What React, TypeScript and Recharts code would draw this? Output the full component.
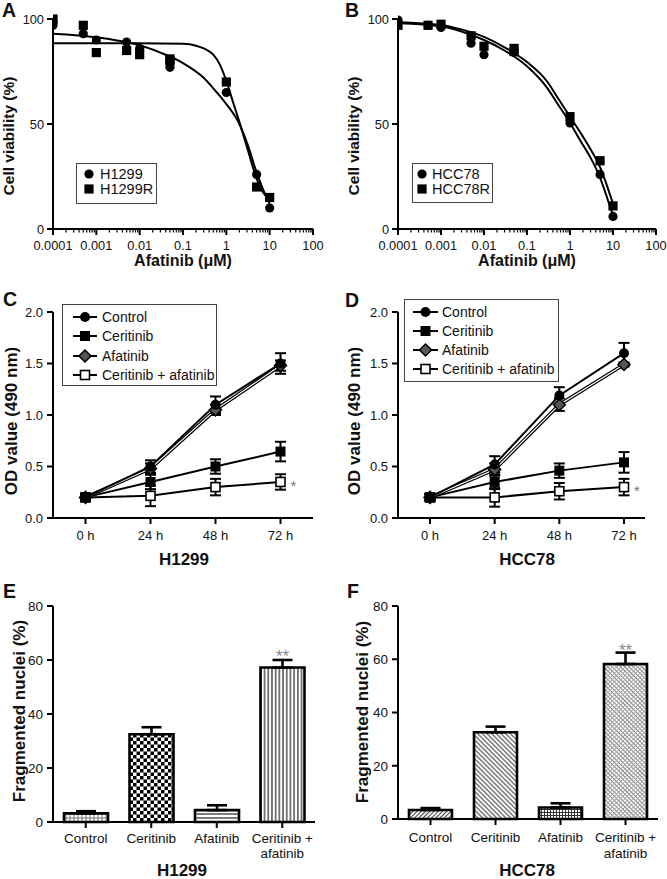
import React from 'react';
import {
  ComposedChart, BarChart, Line, Scatter, Bar, XAxis, YAxis,
  ErrorBar, Cell, Legend, LabelList,
} from 'recharts';

const FONT = '"Liberation Sans", Arial, Helvetica, sans-serif';
const INK = '#111';

// ---------- Panels A & B: dose response ----------
const decadeTicks = [0.0001, 0.001, 0.01, 0.1, 1, 10, 100];
const decadeLabels = ['0.0001', '0.001', '0.01', '0.1', '1', '10', '100'];
const minorSteps = [2, 3, 4, 5, 6, 7, 8, 9];
const logTicks = decadeTicks.flatMap((d, i) =>
  i < decadeTicks.length - 1 ? [d, ...minorSteps.map((m) => d * m)] : [d]
);
const viabilityTicks = [0, 50, 100];

const h1299Points = [
  { x: 0.0001, y: 97 }, { x: 0.0001, y: 98.5 }, { x: 0.0005, y: 93 }, { x: 0.001, y: 90 },
  { x: 0.005, y: 89 }, { x: 0.01, y: 85 }, { x: 0.01, y: 86 }, { x: 0.05, y: 77 },
  { x: 0.05, y: 79 }, { x: 1, y: 65 }, { x: 5, y: 26 }, { x: 10, y: 10 },
];
const h1299RPoints = [
  { x: 0.0001, y: 100 }, { x: 0.0005, y: 97 }, { x: 0.001, y: 84 }, { x: 0.005, y: 85 },
  { x: 0.01, y: 83 }, { x: 0.05, y: 80 }, { x: 0.05, y: 81 }, { x: 1, y: 70 },
  { x: 5, y: 20 }, { x: 10, y: 15 },
];
const h1299Fit = [
  { x: 0.0001, y: 93 }, { x: 0.001, y: 91.3 }, { x: 0.003, y: 89.8 }, { x: 0.01, y: 87.5 },
  { x: 0.03, y: 84 }, { x: 0.1, y: 79 }, { x: 0.3, y: 72 }, { x: 0.5, y: 67 },
  { x: 1, y: 59.5 }, { x: 2, y: 50 }, { x: 3, y: 41 }, { x: 5, y: 27 },
  { x: 7, y: 19 }, { x: 10, y: 12 },
];
const h1299RFit = [
  { x: 0.0001, y: 88.5 }, { x: 0.01, y: 88.5 }, { x: 0.1, y: 88.2 }, { x: 0.2, y: 87.3 },
  { x: 0.3, y: 86 }, { x: 0.5, y: 83 }, { x: 0.7, y: 78.5 }, { x: 1, y: 70.5 },
  { x: 1.5, y: 59 }, { x: 2, y: 51 }, { x: 3, y: 39 }, { x: 5, y: 24 },
  { x: 7, y: 17.5 }, { x: 10, y: 14 },
];

const hcc78Points = [
  { x: 0.0001, y: 99.5 }, { x: 0.0001, y: 98.5 }, { x: 0.0005, y: 97 }, { x: 0.001, y: 96 },
  { x: 0.005, y: 88.5 }, { x: 0.01, y: 83 }, { x: 0.05, y: 84 }, { x: 1, y: 50.5 },
  { x: 5, y: 26 }, { x: 10, y: 6 },
];
const hcc78RPoints = [
  { x: 0.0001, y: 97 }, { x: 0.0005, y: 97 }, { x: 0.001, y: 97.5 }, { x: 0.005, y: 92 },
  { x: 0.01, y: 87 }, { x: 0.05, y: 86 }, { x: 0.05, y: 84.5 }, { x: 1, y: 53.5 },
  { x: 5, y: 32.5 }, { x: 10, y: 11 },
];
const hcc78Fit = [
  { x: 0.0001, y: 98 }, { x: 0.001, y: 96.5 }, { x: 0.003, y: 94 }, { x: 0.01, y: 90 },
  { x: 0.03, y: 85 }, { x: 0.1, y: 77.5 }, { x: 0.3, y: 67 }, { x: 0.5, y: 60 },
  { x: 1, y: 50.5 }, { x: 2, y: 40 }, { x: 3, y: 34 }, { x: 5, y: 24.5 },
  { x: 7, y: 16 }, { x: 10, y: 6.5 },
];
const hcc78RFit = [
  { x: 0.0001, y: 98.5 }, { x: 0.001, y: 97.2 }, { x: 0.003, y: 95 }, { x: 0.01, y: 91.5 },
  { x: 0.03, y: 86.5 }, { x: 0.1, y: 79.5 }, { x: 0.3, y: 70 }, { x: 0.5, y: 63 },
  { x: 1, y: 53.5 }, { x: 2, y: 44 }, { x: 3, y: 38 }, { x: 5, y: 29.5 },
  { x: 7, y: 21.5 }, { x: 10, y: 12 },
];

// ---------- Panels C & D: OD 490 nm over time ----------
const timeLabels = ['0 h', '24 h', '48 h', '72 h'];
const odTicks = [0, 0.5, 1, 1.5, 2];

const cControl = [0.2, 0.5, 1.1, 1.5];
const cControlErr = [0.03, 0.06, 0.08, 0.1];
const cCeritinib = [0.2, 0.35, 0.5, 0.645];
const cCeritinibErr = [0.03, 0.07, 0.07, 0.095];
const cAfatinib = [0.2, 0.48, 1.05, 1.48];
const cAfatinibErr = [0.03, 0.05, 0.05, 0.05];
const cCombo = [0.2, 0.215, 0.3, 0.35];
const cComboErr = [0.03, 0.1, 0.08, 0.075];
const cSig = ['', '', '', '*'];

const dControl = [0.2, 0.52, 1.19, 1.6];
const dControlErr = [0.03, 0.08, 0.08, 0.1];
const dCeritinib = [0.2, 0.35, 0.46, 0.54];
const dCeritinibErr = [0.03, 0.07, 0.07, 0.1];
const dAfatinib = [0.2, 0.47, 1.1, 1.49];
const dAfatinibErr = [0.03, 0.06, 0.06, 0.02];
const dCombo = [0.2, 0.2, 0.26, 0.3];
const dComboErr = [0.03, 0.09, 0.08, 0.08];
const dSig = ['', '', '', '*'];

// ---------- Panels E & F: fragmented nuclei ----------
const apoptosisCats = ['Control', 'Ceritinib', 'Afatinib', 'Ceritinib +\nafatinib'];
const nucleiTicks = [0, 20, 40, 60, 80];
const eValues = [3.2, 32.5, 4.4, 57.2];
const eErrors = [0.8, 2.6, 1.8, 2.8];
const eSig = ['', '', '', '**'];
const fValues = [3.4, 32.6, 4.3, 58.2];
const fErrors = [0.7, 2.1, 1.6, 4.3];
const fSig = ['', '', '', '**'];
const ePatterns = ['url(#eCtl)', 'url(#eCer)', 'url(#eAfa)', 'url(#eCmb)'];
const fPatterns = ['url(#fCtl)', 'url(#fCer)', 'url(#fAfa)', 'url(#fCmb)'];

const buildGrowth = (ctl, ctlE, cer, cerE, afa, afaE, cmb, cmbE, sig) =>
  timeLabels.map((t, i) => ({
    time: t,
    control: ctl[i], controlErr: ctlE[i],
    ceritinib: cer[i], ceritinibErr: cerE[i],
    afatinib: afa[i], afatinibErr: afaE[i],
    combo: cmb[i], comboErr: cmbE[i],
    sig: sig[i],
  }));
const cData = buildGrowth(cControl, cControlErr, cCeritinib, cCeritinibErr, cAfatinib, cAfatinibErr, cCombo, cComboErr, cSig);
const dData = buildGrowth(dControl, dControlErr, dCeritinib, dCeritinibErr, dAfatinib, dAfatinibErr, dCombo, dComboErr, dSig);

const buildBars = (vals, errs, sig) =>
  apoptosisCats.map((n, i) => ({ name: n, value: vals[i], err: [0, errs[i]], sig: sig[i] }));
const eData = buildBars(eValues, eErrors, eSig);
const fData = buildBars(fValues, fErrors, fSig);

// ---------- helpers ----------
const axisLineStyle = { stroke: '#000', strokeWidth: 2 };
const tickLineStyle = { stroke: '#000', strokeWidth: 2 };

const kinds: Record<string, string> = {
  H1299: 'circle', H1299R: 'square', HCC78: 'circle', HCC78R: 'square',
  Control: 'circle', Ceritinib: 'square', Afatinib: 'diamond', 'Ceritinib + afatinib': 'open',
};

function Marker({ kind, cx, cy, s = 1 }: any) {
  if (kind === 'circle') return <circle cx={cx} cy={cy} r={5 * s} fill="#000" />;
  if (kind === 'square') return <rect x={cx - 5 * s} y={cy - 5 * s} width={10 * s} height={10 * s} fill="#000" />;
  if (kind === 'diamond')
    return (
      <path
        d={`M${cx},${cy - 6 * s} L${cx + 6 * s},${cy} L${cx},${cy + 6 * s} L${cx - 6 * s},${cy} Z`}
        fill="#555" stroke="#000" strokeWidth={1.5}
      />
    );
  return <rect x={cx - 4.5 * s} y={cy - 4.5 * s} width={9 * s} height={9 * s} fill="#fff" stroke="#000" strokeWidth={1.6} />;
}

const LogTick = (props: any) => {
  const { x, y, payload } = props;
  const v = payload.value;
  const idx = decadeTicks.findIndex((d) => Math.abs(d - v) / d < 1e-6);
  const major = idx >= 0;
  return (
    <g>
      <line x1={x} x2={x} y1={y} y2={y + (major ? 6 : 3.5)} stroke="#000" strokeWidth={major ? 2 : 1.2} />
      {major && (
        <text x={x} y={y + 21} textAnchor="middle" fontSize={12.8} fill={INK} fontFamily={FONT}>
          {decadeLabels[idx]}
        </text>
      )}
    </g>
  );
};

const TimeTick = (props: any) => (
  <text x={props.x} y={props.y} dy={16} textAnchor="middle" fontSize={13} fill={INK} fontFamily={FONT}>
    {props.payload.value}
  </text>
);

const makeBarTick = (dy1: number, dy2: number) => (props: any) => {
  const lines = String(props.payload.value).split('\n');
  return (
    <text x={props.x} y={props.y} textAnchor="middle" fontSize={13.5} fill={INK} fontFamily={FONT}>
      {lines.map((l, i) => (
        <tspan key={i} x={props.x} dy={i === 0 ? dy1 : dy2}>{l}</tspan>
      ))}
    </text>
  );
};

const circleShape = (p: any) => <circle cx={p.cx} cy={p.cy} r={4.6} fill="#000" />;
const squareShape = (p: any) => <rect x={p.cx - 4.6} y={p.cy - 4.6} width={9.2} height={9.2} fill="#000" />;

const makeDoseLegend = (box: any, names: string[]) => (props: any) => {
  const items = (props.payload || []).filter((p: any) => names.includes(p.value));
  return (
    <div
      style={{
        width: box.w, height: box.h, border: '1px solid #444', boxSizing: 'border-box',
        background: '#fff', paddingTop: box.pt, fontFamily: FONT,
      }}
    >
      {items.map((it: any) => (
        <div key={it.value} style={{ display: 'flex', alignItems: 'center', height: 15, fontSize: 14.5, color: INK, lineHeight: 1 }}>
          <svg width={10} height={10} style={{ marginLeft: box.ml, marginRight: box.mr, overflow: 'visible' }}>
            <Marker kind={kinds[it.value]} cx={5} cy={5} s={0.92} />
          </svg>
          <span>{it.value}</span>
        </div>
      ))}
    </div>
  );
};

const growthOrder = ['Control', 'Ceritinib', 'Afatinib', 'Ceritinib + afatinib'];
const makeGrowthLegend = (box: any) => (props: any) => {
  const items = [...(props.payload || [])]
    .filter((p: any) => growthOrder.includes(p.value))
    .sort((a: any, b: any) => growthOrder.indexOf(a.value) - growthOrder.indexOf(b.value));
  return (
    <div
      style={{
        width: box.w, height: box.h, border: '1px solid #444', boxSizing: 'border-box',
        background: '#fff', paddingTop: box.pt, fontFamily: FONT,
      }}
    >
      {items.map((it: any) => (
        <div key={it.value} style={{ display: 'flex', alignItems: 'center', height: box.rowH, fontSize: 14, color: INK, lineHeight: 1 }}>
          <svg width={box.mw} height={14} style={{ marginLeft: box.ml, marginRight: box.mr, overflow: 'visible' }}>
            <line x1={0} x2={box.mw} y1={7} y2={7} stroke="#000" strokeWidth={2} />
            <Marker kind={kinds[it.value]} cx={box.mw / 2} cy={7} />
          </svg>
          <span>{it.value}</span>
        </div>
      ))}
    </div>
  );
};

const StarContent = (props: any) => {
  const vb = props.viewBox || {};
  const x = props.x ?? vb.x;
  const y = props.y ?? vb.y;
  if (!props.value || x == null || y == null) return null;
  return (
    <text x={x + 13} y={y + 9} textAnchor="middle" fontSize={15} fill="#777" fontFamily={FONT}>
      {props.value}
    </text>
  );
};

function DosePanel({ left, width, right, p1, p2, fit1, fit2, n1, n2, legend }: any) {
  return (
    <div style={{ position: 'absolute', left, top: 0 }}>
      <ComposedChart width={width} height={285} margin={{ top: 19, right, bottom: 0, left: 0 }}>
        <XAxis
          type="number" dataKey="x" scale="log" domain={[0.0001, 100]} allowDataOverflow
          ticks={logTicks} interval={0} tick={LogTick} tickLine={false} tickSize={0} tickMargin={0}
          height={56} axisLine={axisLineStyle}
        />
        <YAxis
          type="number" dataKey="y" domain={[0, 100]} ticks={viabilityTicks} interval={0} width={53}
          tickSize={6} tickMargin={3} axisLine={axisLineStyle} tickLine={tickLineStyle}
          tick={{ fill: INK, fontSize: 12.8, fontFamily: FONT }}
        />
        <Line data={fit1} dataKey="y" type="monotone" stroke="#000" strokeWidth={2} dot={false} isAnimationActive={false} legendType="none" />
        <Line data={fit2} dataKey="y" type="monotone" stroke="#000" strokeWidth={2} dot={false} isAnimationActive={false} legendType="none" />
        <Scatter name={n1} data={p1} shape={circleShape} fill="#000" isAnimationActive={false} />
        <Scatter name={n2} data={p2} shape={squareShape} fill="#000" isAnimationActive={false} />
        <Legend
          layout="vertical" align="center" verticalAlign="middle"
          wrapperStyle={{ left: legend.left, top: legend.top, width: legend.w, height: legend.h }}
          content={makeDoseLegend(legend, [n1, n2])}
        />
      </ComposedChart>
    </div>
  );
}

function GrowthPanel({ left, width, right, data, legend, pad }: any) {
  return (
    <div style={{ position: 'absolute', left, top: 285 }}>
      <ComposedChart width={width} height={285} data={data} margin={{ top: 27, right, bottom: 0, left: 0 }}>
        <XAxis
          dataKey="time" scale="point" padding={pad} interval={0} height={52} tickSize={6} tickMargin={0} tick={TimeTick}
          axisLine={axisLineStyle} tickLine={tickLineStyle}
        />
        <YAxis
          type="number" domain={[0, 2]} ticks={odTicks} interval={0} width={53} tickSize={6} tickMargin={4}
          tickFormatter={(v: number) => v.toFixed(1)} axisLine={axisLineStyle} tickLine={tickLineStyle}
          tick={{ fill: INK, fontSize: 13, fontFamily: FONT }}
        />
        <Line dataKey="combo" name="Ceritinib + afatinib" stroke="#000" strokeWidth={2} isAnimationActive={false}
          dot={(p: any) => <Marker key={'cb' + p.index} kind="open" cx={p.cx} cy={p.cy} />}>
          <ErrorBar dataKey="comboErr" direction="y" width={5.5} stroke="#000" strokeWidth={2} />
          <LabelList dataKey="sig" content={StarContent} />
        </Line>
        <Line dataKey="ceritinib" name="Ceritinib" stroke="#000" strokeWidth={2} isAnimationActive={false}
          dot={(p: any) => <Marker key={'ce' + p.index} kind="square" cx={p.cx} cy={p.cy} />}>
          <ErrorBar dataKey="ceritinibErr" direction="y" width={5.5} stroke="#000" strokeWidth={2} />
        </Line>
        <Line dataKey="afatinib" name="Afatinib" stroke="#000" strokeWidth={3.6} isAnimationActive={false} dot={false}>
          <ErrorBar dataKey="afatinibErr" direction="y" width={5.5} stroke="#000" strokeWidth={2} />
        </Line>
        <Line dataKey="afatinib" stroke="#fff" strokeWidth={1.2} isAnimationActive={false} legendType="none"
          dot={(p: any) => <Marker key={'af' + p.index} kind="diamond" cx={p.cx} cy={p.cy} />} />
        <Line dataKey="control" name="Control" stroke="#000" strokeWidth={2} isAnimationActive={false}
          dot={(p: any) => <Marker key={'ct' + p.index} kind="circle" cx={p.cx} cy={p.cy} />}>
          <ErrorBar dataKey="controlErr" direction="y" width={5.5} stroke="#000" strokeWidth={2} />
        </Line>
        <Legend
          layout="vertical" align="center" verticalAlign="middle"
          wrapperStyle={{ left: legend.left, top: legend.top, width: legend.w, height: legend.h }}
          content={makeGrowthLegend(legend)}
        />
      </ComposedChart>
    </div>
  );
}

function BarPanel({ left, width, right, data, fills, barSize, xh, dy1, dy2, starOffset }: any) {
  return (
    <div style={{ position: 'absolute', left, top: 580 }}>
      <BarChart width={width} height={299} data={data} margin={{ top: 26, right, bottom: 0, left: 0 }}>
        <XAxis
          dataKey="name" interval={0} height={xh} tickSize={6} tickMargin={0} tick={makeBarTick(dy1, dy2)}
          axisLine={axisLineStyle} tickLine={tickLineStyle}
        />
        <YAxis
          type="number" domain={[0, 80]} ticks={nucleiTicks} interval={0} width={53} tickSize={6} tickMargin={4}
          axisLine={axisLineStyle} tickLine={tickLineStyle}
          tick={{ fill: INK, fontSize: 13.5, fontFamily: FONT }}
        />
        <Bar dataKey="value" barSize={barSize} stroke="#000" strokeWidth={2.6} isAnimationActive={false}>
          {data.map((d: any, i: number) => (
            <Cell key={d.name} fill={fills[i]} />
          ))}
          <ErrorBar dataKey="err" direction="y" width={10} stroke="#000" strokeWidth={2.6} />
          <LabelList dataKey="sig" position="top" offset={starOffset} fill="#888" fontSize={17} fontFamily={FONT} />
        </Bar>
      </BarChart>
    </div>
  );
}

function Patterns() {
  return (
    <svg width={0} height={0} style={{ position: 'absolute', left: 0, top: 0 }}>
      <defs>
        <pattern id="eCtl" width={4} height={4} patternUnits="userSpaceOnUse">
          <rect width={4} height={4} fill="#fff" />
          <circle cx={2} cy={2} r={1.2} fill="none" stroke="#444" strokeWidth={0.8} />
        </pattern>
        <pattern id="eCer" width={7} height={7} patternUnits="userSpaceOnUse">
          <rect width={7} height={7} fill="#fff" />
          <rect x={0} y={0} width={3.5} height={3.5} fill="#000" />
          <rect x={3.5} y={3.5} width={3.5} height={3.5} fill="#000" />
        </pattern>
        <pattern id="eAfa" width={4} height={4} patternUnits="userSpaceOnUse">
          <rect width={4} height={4} fill="#fff" />
          <line x1={0} x2={4} y1={2} y2={2} stroke="#222" strokeWidth={1.2} />
        </pattern>
        <pattern id="eCmb" width={3.7} height={4} patternUnits="userSpaceOnUse">
          <rect width={3.7} height={4} fill="#fff" />
          <line x1={1.85} x2={1.85} y1={0} y2={4} stroke="#444" strokeWidth={1.4} />
        </pattern>
        <pattern id="fCtl" width={3} height={3} patternUnits="userSpaceOnUse" patternTransform="rotate(45)">
          <rect width={3} height={3} fill="#fff" />
          <line x1={1.5} x2={1.5} y1={0} y2={3} stroke="#444" strokeWidth={1.1} />
        </pattern>
        <pattern id="fCer" width={3.3} height={3.3} patternUnits="userSpaceOnUse" patternTransform="rotate(-45)">
          <rect width={3.3} height={3.3} fill="#fff" />
          <line x1={1.65} x2={1.65} y1={0} y2={3.3} stroke="#333" strokeWidth={1} />
        </pattern>
        <pattern id="fAfa" width={3} height={3} patternUnits="userSpaceOnUse">
          <rect width={3} height={3} fill="#fff" />
          <line x1={0} x2={3} y1={1.5} y2={1.5} stroke="#222" strokeWidth={0.9} />
          <line x1={1.5} x2={1.5} y1={0} y2={3} stroke="#222" strokeWidth={0.9} />
        </pattern>
        <pattern id="fCmb" width={3} height={3} patternUnits="userSpaceOnUse" patternTransform="rotate(45)">
          <rect width={3} height={3} fill="#fff" />
          <line x1={0} x2={3} y1={1.5} y2={1.5} stroke="#888" strokeWidth={1} />
          <line x1={1.5} x2={1.5} y1={0} y2={3} stroke="#999" strokeWidth={0.8} />
        </pattern>
      </defs>
    </svg>
  );
}

const titleStyle = { fontFamily: FONT, fontWeight: 700, fill: INK } as any;

export default function App() {
  return (
    <div
      style={{
        position: 'absolute', left: 0, top: 0, width: 667, height: 879, background: '#fff',
        fontFamily: FONT, overflow: 'hidden',
      }}
    >
      <Patterns />
      <DosePanel
        left={0} width={330} right={17} p1={h1299Points} p2={h1299RPoints} fit1={h1299Fit} fit2={h1299RFit}
        n1="H1299" n2="H1299R" legend={{ left: 76, top: 163, w: 81, h: 41, pt: 2.5, ml: 7, mr: 6 }}
      />
      <DosePanel
        left={345} width={322} right={11} p1={hcc78Points} p2={hcc78RPoints} fit1={hcc78Fit} fit2={hcc78RFit}
        n1="HCC78" n2="HCC78R" legend={{ left: 67, top: 163, w: 81, h: 40, pt: 2.5, ml: 4, mr: 5 }}
      />
      <GrowthPanel
        left={0} width={330} right={17} data={cData} pad={{ left: 32.5, right: 32.5 }}
        legend={{ left: 62, top: 19, w: 155, h: 82, pt: 2.4, rowH: 19.3, ml: 10, mw: 24, mr: 5 }}
      />
      <GrowthPanel
        left={345} width={322} right={22} data={dData} pad={{ left: 32, right: 21 }}
        legend={{ left: 59, top: 14, w: 155, h: 83, pt: 2.5, rowH: 19, ml: 8, mw: 25, mr: 4 }}
      />
      <BarPanel
        left={0} width={330} right={15} data={eData} fills={ePatterns} barSize={44} xh={57}
        dy1={15} dy2={15} starOffset={5.5}
      />
      <BarPanel
        left={345} width={322} right={9} data={fData} fills={fPatterns} barSize={43} xh={60}
        dy1={17} dy2={16} starOffset={8.5}
      />
      <svg width={667} height={879} style={{ position: 'absolute', left: 0, top: 0, pointerEvents: 'none' }}>
        {/* panel letters */}
        <text x={2} y={17} fontSize={19.5} style={titleStyle}>A</text>
        <text x={345} y={17} fontSize={19.5} style={titleStyle}>B</text>
        <text x={3} y={306} fontSize={19.5} style={titleStyle}>C</text>
        <text x={345} y={307} fontSize={19.5} style={titleStyle}>D</text>
        <text x={3} y={598} fontSize={19.5} style={titleStyle}>E</text>
        <text x={347} y={598} fontSize={19.5} style={titleStyle}>F</text>
        {/* x titles */}
        <text x={183} y={265.5} fontSize={16} textAnchor="middle" style={titleStyle}>Afatinib (μM)</text>
        <text x={527} y={265.5} fontSize={16} textAnchor="middle" style={titleStyle}>Afatinib (μM)</text>
        <text x={184} y={565} fontSize={17} textAnchor="middle" style={titleStyle}>H1299</text>
        <text x={527} y={565} fontSize={17} textAnchor="middle" style={titleStyle}>HCC78</text>
        <text x={182} y={875.5} fontSize={17} textAnchor="middle" style={titleStyle}>H1299</text>
        <text x={527} y={875.5} fontSize={17} textAnchor="middle" style={titleStyle}>HCC78</text>
        {/* y titles */}
        <text transform="translate(13.5,136) rotate(-90)" fontSize={15.5} textAnchor="middle" style={titleStyle}>Cell viability (%)</text>
        <text transform="translate(358.5,136) rotate(-90)" fontSize={15.5} textAnchor="middle" style={titleStyle}>Cell viability (%)</text>
        <text transform="translate(16.5,421) rotate(-90)" fontSize={17} textAnchor="middle" style={titleStyle}>OD value (490 nm)</text>
        <text transform="translate(359.5,421) rotate(-90)" fontSize={17} textAnchor="middle" style={titleStyle}>OD value (490 nm)</text>
        <text transform="translate(24.5,711) rotate(-90)" fontSize={17} textAnchor="middle" style={titleStyle}>Fragmented nuclei (%)</text>
        <text transform="translate(368,712) rotate(-90)" fontSize={17} textAnchor="middle" style={titleStyle}>Fragmented nuclei (%)</text>
      </svg>
    </div>
  );
}
